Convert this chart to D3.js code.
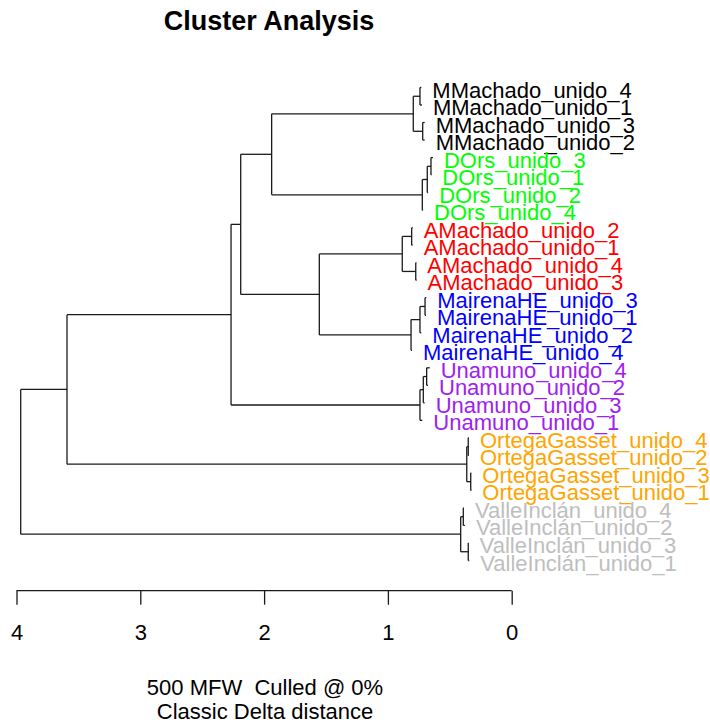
<!DOCTYPE html>
<html>
<head>
<meta charset="utf-8">
<script src="https://cdn.jsdelivr.net/npm/d3@7"></script>
<style>
  html, body { margin: 0; padding: 0; background: #fff; }
  svg { display: block; font-family: "Liberation Sans", Arial, sans-serif; }
</style>
</head>
<body>
<svg id="chart" width="710" height="724"></svg>
<script>
// Tip labels, top to bottom
const labels = [
  "MMachado_unido_4", "MMachado_unido_1", "MMachado_unido_3", "MMachado_unido_2",
  "DOrs_unido_3", "DOrs_unido_1", "DOrs_unido_2", "DOrs_unido_4",
  "AMachado_unido_2", "AMachado_unido_1", "AMachado_unido_4", "AMachado_unido_3",
  "MairenaHE_unido_3", "MairenaHE_unido_1", "MairenaHE_unido_2", "MairenaHE_unido_4",
  "Unamuno_unido_4", "Unamuno_unido_2", "Unamuno_unido_3", "Unamuno_unido_1",
  "OrtegaGasset_unido_4", "OrtegaGasset_unido_2", "OrtegaGasset_unido_3", "OrtegaGasset_unido_1",
  "ValleIncl\u00e1n_unido_4", "ValleIncl\u00e1n_unido_2", "ValleIncl\u00e1n_unido_3", "ValleIncl\u00e1n_unido_1"
];

// Distance at which each tip ends
const tipHeights = [
  0.730, 0.725, 0.703, 0.703,
  0.636, 0.649, 0.675, 0.716,
  0.800, 0.800, 0.770, 0.768,
  0.690, 0.692, 0.730, 0.805,
  0.662, 0.676, 0.703, 0.722,
  0.345, 0.345, 0.326, 0.326,
  0.385, 0.378, 0.348, 0.343
];

// Merge list (hclust style): negative = tip number, positive = earlier merge
const mergePairs = [
  [-1, -2], [-3, -4], [1, 2],
  [-5, -6], [4, -7], [5, -8],
  [3, 6],
  [-9, -10], [-11, -12], [8, 9],
  [-13, -14], [11, -15], [12, -16],
  [10, 13], [7, 14],
  [-17, -18], [16, -19], [17, -20],
  [15, 18],
  [-21, -22], [-23, -24], [20, 21],
  [19, 22],
  [-25, -26], [-27, -28], [24, 25],
  [23, 26]
];
const mergeHeights = [
  0.741, 0.719, 0.795,
  0.652, 0.682, 0.722,
  1.939,
  0.808, 0.775, 0.884,
  0.700, 0.741, 0.813,
  1.554, 2.189,
  0.687, 0.714, 0.741,
  2.267,
  0.351, 0.331, 0.363,
  3.592,
  0.391, 0.351, 0.412,
  3.966
];

const authors = ["MMachado", "DOrs", "AMachado", "MairenaHE", "Unamuno", "OrtegaGasset", "ValleIncl\u00e1n"];
const authorColors = ["#000000", "#00FF00", "#FF0000", "#0000FF", "#A020F0", "#FFA500", "#BEBEBE"];

const axisTicks = [4, 3, 2, 1, 0];
const titleText = "Cluster Analysis";
const subtitleLines = ["500 MFW  Culled @ 0%", "Classic Delta distance"];

const svg = d3.select("#chart");

const x = d3.scaleLinear().domain([4, 0]).range([16.5, 511.7]);
const y = d3.scalePoint().domain(d3.range(labels.length)).range([87.5, 560.5]);
const color = d3.scaleOrdinal().domain(authors).range(authorColors);

// Position of every node: tips and merges
function pos(ref) {
  if (ref < 0) {
    const i = -ref - 1;
    return { x: x(tipHeights[i]), y: y(i) };
  }
  return mergePos[ref - 1];
}
const mergePos = [];
mergePairs.forEach((pair, k) => {
  const a = pos(pair[0]), b = pos(pair[1]);
  mergePos.push({ x: x(mergeHeights[k]), y: (a.y + b.y) / 2 });
});

// Rectangular edges
const tree = svg.append("g")
  .attr("fill", "none")
  .attr("stroke", "#1a1a1a")
  .attr("stroke-width", 1.3);

mergePairs.forEach((pair, k) => {
  const p = mergePos[k];
  const a = pos(pair[0]), b = pos(pair[1]);
  tree.append("path").attr("d", `M${p.x},${a.y}V${b.y}`);
  [a, b].forEach(c => {
    tree.append("path").attr("d", `M${p.x},${c.y}H${c.x}`);
  });
});

// Tip labels
svg.append("g")
  .style("font-size", "22px")
  .selectAll("text")
  .data(labels)
  .join("text")
  .attr("x", (d, i) => x(tipHeights[i]) + 11)
  .attr("y", (d, i) => y(i) + 10)
  .attr("fill", d => color(d.split("_")[0]))
  .text(d => d);

// Distance axis
const axisG = svg.append("g")
  .attr("transform", "translate(0,590.7)")
  .call(d3.axisBottom(x).tickValues(axisTicks).tickSize(14).tickSizeOuter(0).tickFormat(d3.format("d")));
axisG.select(".domain").attr("stroke", "#1a1a1a").attr("stroke-width", 1.3).attr("d", `M${x(4)},0H${x(0)}`);
axisG.selectAll(".tick line").attr("stroke", "#1a1a1a").attr("stroke-width", 1.3);
axisG.selectAll(".tick text")
  .attr("y", 49.5).attr("dy", null)
  .attr("fill", "#000")
  .style("font-size", "22px")
  .style("font-family", "\"Liberation Sans\", Arial, sans-serif");

// Title
svg.append("text")
  .attr("x", 269).attr("y", 30)
  .attr("text-anchor", "middle")
  .style("font-size", "27px").style("font-weight", "bold")
  .text(titleText);

// Subtitle
svg.append("g")
  .selectAll("text")
  .data(subtitleLines)
  .join("text")
  .attr("x", 265)
  .attr("y", (d, i) => 695 + i * 24)
  .attr("text-anchor", "middle")
  .style("font-size", "22px")
  .style("white-space", "pre")
  .text(d => d);
</script>
</body>
</html>
